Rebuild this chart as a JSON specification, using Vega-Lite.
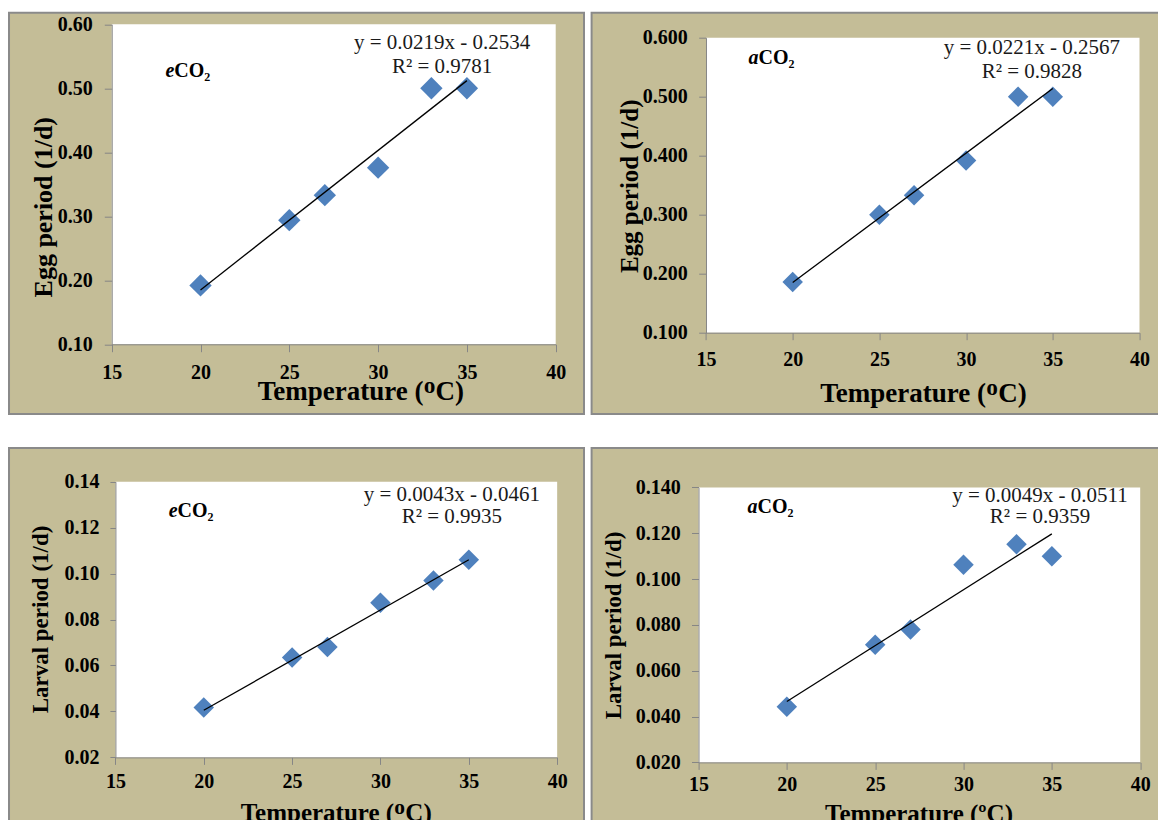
{
"$schema": "https://vega.github.io/schema/vega-lite/v6.json",
"background": "white",
"padding": {"left": 8, "top": 11.7, "right": 0, "bottom": 0},
"config": {
  "view": {"fill": "#C4BD97", "stroke": "#8a8a8a", "strokeWidth": 2},
  "axis": {"grid": false, "domainColor": "#868686", "tickColor": "#868686", "domainWidth": 1, "tickWidth": 1, "tickSize": 7, "labelFont": "Liberation Serif", "labelFontWeight": "bold", "labelFontSize": 20, "labelColor": "#000000", "titleFont": "Liberation Serif", "titleFontWeight": "bold", "titleColor": "#000000", "labelFlush": false, "labelOverlap": false},
  "text": {"font": "Liberation Serif"}
},
"datasets": {
  "tl": [{"T": 20, "v": 0.192}, {"T": 25, "v": 0.294}, {"T": 27, "v": 0.333}, {"T": 30, "v": 0.376}, {"T": 33, "v": 0.5}, {"T": 35, "v": 0.5}],
  "tr": [{"T": 20, "v": 0.186}, {"T": 25, "v": 0.3}, {"T": 27, "v": 0.333}, {"T": 30, "v": 0.392}, {"T": 33, "v": 0.5}, {"T": 35, "v": 0.5}],
  "bl": [{"T": 20, "v": 0.0417}, {"T": 25, "v": 0.0635}, {"T": 27, "v": 0.068}, {"T": 30, "v": 0.0873}, {"T": 33, "v": 0.097}, {"T": 35, "v": 0.106}],
  "br": [{"T": 20, "v": 0.0443}, {"T": 25, "v": 0.0713}, {"T": 27, "v": 0.078}, {"T": 30, "v": 0.1062}, {"T": 33, "v": 0.1152}, {"T": 35, "v": 0.11}],
  "tlfit": [{"T": 20, "v": 0.185}, {"T": 35, "v": 0.512}],
  "trfit": [{"T": 20, "v": 0.185}, {"T": 35, "v": 0.514}],
  "blfit": [{"T": 20, "v": 0.0405}, {"T": 35, "v": 0.106}],
  "brfit": [{"T": 20, "v": 0.0466}, {"T": 35, "v": 0.1197}],
  "one": [{}]
},
"spacing": 31.3,
"vconcat": [
 {"spacing": 5.6, "hconcat": [
  {"width": 575, "height": 401.3, "layer": [
    {"data": {"name": "one"}, "mark": {"type": "rect", "fill": "white"},
     "encoding": {"x": {"datum": 15, "type": "quantitative", "scale": {"domain": [9.2173, 41.593], "nice": false, "zero": false}}, "x2": {"datum": 40},
                  "y": {"datum": 0.6, "type": "quantitative", "scale": {"domain": [-0.00891, 0.618125], "nice": false, "zero": false}}, "y2": {"datum": 0.1}}},
    {"data": {"name": "tl"}, "mark": {"type": "point", "shape": "diamond", "filled": true, "size": 500, "color": "#4F81BD", "opacity": 1},
     "encoding": {"x": {"field": "T", "type": "quantitative", "scale": {"domain": [9.2173, 41.593], "nice": false, "zero": false},
                        "axis": {"values": [15, 20, 25, 30, 35, 40], "title": "Temperature (ᴼC)", "titleFontSize": 27, "labelPadding": 10.5, "tickSize": 7.4, "offset": -69.7, "domainDash": [0, 102.7, 444, 2000], "titleX": 351.4, "titleY": 55.7, "titleBaseline": "alphabetic", "titleAlign": "center", "zindex": 1}},
                  "y": {"field": "v", "type": "quantitative", "scale": {"domain": [-0.00891, 0.618125], "nice": false, "zero": false},
                        "axis": {"values": [0.1, 0.2, 0.3, 0.4, 0.5, 0.6], "format": ".2f", "title": "Egg period  (1/d)", "titleFontSize": 26, "labelPadding": 12, "tickSize": 7.4, "offset": -102.7, "domainDash": [0, 69.7, 320, 2000], "titleX": -59.9, "titleY": 194.0, "titleBaseline": "alphabetic", "titleAlign": "center", "titleAngle": -90, "zindex": 1}}}},
    {"data": {"name": "tlfit"}, "mark": {"type": "line", "color": "#000000", "strokeWidth": 1.3},
     "encoding": {"x": {"field": "T", "type": "quantitative"}, "y": {"field": "v", "type": "quantitative"}}},
    {"data": {"name": "one"}, "mark": {"type": "text", "text": "e", "fontStyle": "italic", "fontWeight": "bold", "fontSize": 20, "align": "right", "baseline": "middle", "color": "#000000"},
     "encoding": {"x": {"datum": 18.525, "type": "quantitative"}, "y": {"datum": 0.527, "type": "quantitative"}}},
    {"data": {"name": "one"}, "mark": {"type": "text", "text": "CO₂", "fontWeight": "bold", "fontSize": 20, "align": "left", "baseline": "middle", "color": "#000000"},
     "encoding": {"x": {"datum": 18.525, "type": "quantitative"}, "y": {"datum": 0.527, "type": "quantitative"}}},
    {"data": {"name": "one"}, "mark": {"type": "text", "text": "y = 0.0219x - 0.2534", "fontSize": 21, "align": "center", "baseline": "middle", "color": "#1a1a1a"},
     "encoding": {"x": {"datum": 33.6, "type": "quantitative"}, "y": {"datum": 0.5703, "type": "quantitative"}}},
    {"data": {"name": "one"}, "mark": {"type": "text", "text": "R² = 0.9781", "fontSize": 21, "align": "center", "baseline": "middle", "color": "#1a1a1a"},
     "encoding": {"x": {"datum": 33.6, "type": "quantitative"}, "y": {"datum": 0.5337, "type": "quantitative"}}}
  ]},
  {"width": 568, "height": 401.3, "layer": [
    {"data": {"name": "one"}, "mark": {"type": "rect", "fill": "white"},
     "encoding": {"x": {"datum": 15, "type": "quantitative", "scale": {"domain": [8.4025, 41.159], "nice": false, "zero": false}}, "x2": {"datum": 40},
                  "y": {"datum": 0.6, "type": "quantitative", "scale": {"domain": [-0.0378, 0.642373], "nice": false, "zero": false}}, "y2": {"datum": 0.1}}},
    {"data": {"name": "tr"}, "mark": {"type": "point", "shape": "diamond", "filled": true, "size": 420, "color": "#4F81BD", "opacity": 1},
     "encoding": {"x": {"field": "T", "type": "quantitative", "scale": {"domain": [8.4025, 41.159], "nice": false, "zero": false},
                        "axis": {"values": [15, 20, 25, 30, 35, 40], "title": "Temperature (ᴼC)", "titleFontSize": 27, "labelPadding": 9.5, "tickSize": 7, "offset": -81.3, "domainDash": [0, 114.4, 433.5, 2000], "titleX": 331.4, "titleY": 69, "titleBaseline": "alphabetic", "titleAlign": "center", "zindex": 1}},
                  "y": {"field": "v", "type": "quantitative", "scale": {"domain": [-0.0378, 0.642373], "nice": false, "zero": false},
                        "axis": {"values": [0.1, 0.2, 0.3, 0.4, 0.5, 0.6], "format": ".3f", "title": "Egg period  (1/d)", "titleFontSize": 25, "labelPadding": 11.4, "tickSize": 7.3, "offset": -114.4, "domainDash": [0, 81.3, 295, 2000], "titleX": -68, "titleY": 173.1, "titleBaseline": "alphabetic", "titleAlign": "center", "titleAngle": -90, "zindex": 1}}}},
    {"data": {"name": "trfit"}, "mark": {"type": "line", "color": "#000000", "strokeWidth": 1.3},
     "encoding": {"x": {"field": "T", "type": "quantitative"}, "y": {"field": "v", "type": "quantitative"}}},
    {"data": {"name": "one"}, "mark": {"type": "text", "text": "a", "fontStyle": "italic", "fontWeight": "bold", "fontSize": 20, "align": "right", "baseline": "middle", "color": "#000000"},
     "encoding": {"x": {"datum": 18.03, "type": "quantitative"}, "y": {"datum": 0.5651, "type": "quantitative"}}},
    {"data": {"name": "one"}, "mark": {"type": "text", "text": "CO₂", "fontWeight": "bold", "fontSize": 20, "align": "left", "baseline": "middle", "color": "#000000"},
     "encoding": {"x": {"datum": 18.03, "type": "quantitative"}, "y": {"datum": 0.5651, "type": "quantitative"}}},
    {"data": {"name": "one"}, "mark": {"type": "text", "text": "y = 0.0221x - 0.2567", "fontSize": 21, "align": "center", "baseline": "middle", "color": "#1a1a1a"},
     "encoding": {"x": {"datum": 33.79, "type": "quantitative"}, "y": {"datum": 0.582, "type": "quantitative"}}},
    {"data": {"name": "one"}, "mark": {"type": "text", "text": "R² = 0.9828", "fontSize": 21, "align": "center", "baseline": "middle", "color": "#1a1a1a"},
     "encoding": {"x": {"datum": 33.79, "type": "quantitative"}, "y": {"datum": 0.5424, "type": "quantitative"}}}
  ]}
 ]},
 {"spacing": 5.6, "hconcat": [
  {"width": 575, "height": 387.7, "layer": [
    {"data": {"name": "one"}, "mark": {"type": "rect", "fill": "white"},
     "encoding": {"x": {"datum": 15, "type": "quantitative", "scale": {"domain": [8.9785, 41.519], "nice": false, "zero": false}}, "x2": {"datum": 40},
                  "y": {"datum": 0.14, "type": "quantitative", "scale": {"domain": [-0.014081, 0.154668], "nice": false, "zero": false}}, "y2": {"datum": 0.02}}},
    {"data": {"name": "bl"}, "mark": {"type": "point", "shape": "diamond", "filled": true, "size": 420, "color": "#4F81BD", "opacity": 1},
     "encoding": {"x": {"field": "T", "type": "quantitative", "scale": {"domain": [8.9785, 41.519], "nice": false, "zero": false},
                        "axis": {"values": [15, 20, 25, 30, 35, 40], "title": "Temperature (ᴼC)", "titleFontSize": 25, "labelPadding": 7, "tickSize": 7, "offset": -78.3, "domainDash": [0, 106.4, 441.8, 2000], "titleX": 326.7, "titleY": 63.1, "titleBaseline": "alphabetic", "titleAlign": "center", "zindex": 1}},
                  "y": {"field": "v", "type": "quantitative", "scale": {"domain": [-0.014081, 0.154668], "nice": false, "zero": false},
                        "axis": {"values": [0.02, 0.04, 0.06, 0.08, 0.1, 0.12, 0.14], "format": ".2f", "title": "Larval period  (1/d)", "titleFontSize": 23, "labelPadding": 10.8, "tickSize": 5.5, "offset": -106.4, "domainDash": [0, 78.3, 275.7, 2000], "titleX": -68.4, "titleY": 171, "titleBaseline": "alphabetic", "titleAlign": "center", "titleAngle": -90, "zindex": 1}}}},
    {"data": {"name": "blfit"}, "mark": {"type": "line", "color": "#000000", "strokeWidth": 1.3},
     "encoding": {"x": {"field": "T", "type": "quantitative"}, "y": {"field": "v", "type": "quantitative"}}},
    {"data": {"name": "one"}, "mark": {"type": "text", "text": "e", "fontStyle": "italic", "fontWeight": "bold", "fontSize": 20, "align": "right", "baseline": "middle", "color": "#000000"},
     "encoding": {"x": {"datum": 18.52, "type": "quantitative"}, "y": {"datum": 0.12707, "type": "quantitative"}}},
    {"data": {"name": "one"}, "mark": {"type": "text", "text": "CO₂", "fontWeight": "bold", "fontSize": 20, "align": "left", "baseline": "middle", "color": "#000000"},
     "encoding": {"x": {"datum": 18.52, "type": "quantitative"}, "y": {"datum": 0.12707, "type": "quantitative"}}},
    {"data": {"name": "one"}, "mark": {"type": "text", "text": "y = 0.0043x - 0.0461", "fontSize": 21, "align": "center", "baseline": "middle", "color": "#1a1a1a"},
     "encoding": {"x": {"datum": 34.04, "type": "quantitative"}, "y": {"datum": 0.13434, "type": "quantitative"}}},
    {"data": {"name": "one"}, "mark": {"type": "text", "text": "R² = 0.9935", "fontSize": 21, "align": "center", "baseline": "middle", "color": "#1a1a1a"},
     "encoding": {"x": {"datum": 34.04, "type": "quantitative"}, "y": {"datum": 0.12477, "type": "quantitative"}}}
  ]},
  {"width": 568, "height": 387.7, "layer": [
    {"data": {"name": "one"}, "mark": {"type": "rect", "fill": "white"},
     "encoding": {"x": {"datum": 15, "type": "quantitative", "scale": {"domain": [8.9495, 41.098], "nice": false, "zero": false}}, "x2": {"datum": 40},
                  "y": {"datum": 0.14, "type": "quantitative", "scale": {"domain": [-0.011985, 0.157193], "nice": false, "zero": false}}, "y2": {"datum": 0.02}}},
    {"data": {"name": "br"}, "mark": {"type": "point", "shape": "diamond", "filled": true, "size": 420, "color": "#4F81BD", "opacity": 1},
     "encoding": {"x": {"field": "T", "type": "quantitative", "scale": {"domain": [8.9495, 41.098], "nice": false, "zero": false},
                        "axis": {"values": [15, 20, 25, 30, 35, 40], "title": "Temperature (ºC)", "titleFontSize": 25, "labelPadding": 5.5, "tickSize": 7, "offset": -73.3, "domainDash": [0, 106.9, 441.7, 2000], "titleX": 326.9, "titleY": 58.8, "titleBaseline": "alphabetic", "titleAlign": "center", "zindex": 1}},
                  "y": {"field": "v", "type": "quantitative", "scale": {"domain": [-0.011985, 0.157193], "nice": false, "zero": false},
                        "axis": {"values": [0.02, 0.04, 0.06, 0.08, 0.1, 0.12, 0.14], "format": ".3f", "title": "Larval period  (1/d)", "titleFontSize": 23, "labelPadding": 11.3, "tickSize": 7, "offset": -106.9, "domainDash": [0, 73.3, 275, 2000], "titleX": -77.7, "titleY": 177, "titleBaseline": "alphabetic", "titleAlign": "center", "titleAngle": -90, "zindex": 1}}}},
    {"data": {"name": "brfit"}, "mark": {"type": "line", "color": "#000000", "strokeWidth": 1.3},
     "encoding": {"x": {"field": "T", "type": "quantitative"}, "y": {"field": "v", "type": "quantitative"}}},
    {"data": {"name": "one"}, "mark": {"type": "text", "text": "a", "fontStyle": "italic", "fontWeight": "bold", "fontSize": 20, "align": "right", "baseline": "middle", "color": "#000000"},
     "encoding": {"x": {"datum": 18.34, "type": "quantitative"}, "y": {"datum": 0.13158, "type": "quantitative"}}},
    {"data": {"name": "one"}, "mark": {"type": "text", "text": "CO₂", "fontWeight": "bold", "fontSize": 20, "align": "left", "baseline": "middle", "color": "#000000"},
     "encoding": {"x": {"datum": 18.34, "type": "quantitative"}, "y": {"datum": 0.13158, "type": "quantitative"}}},
    {"data": {"name": "one"}, "mark": {"type": "text", "text": "y = 0.0049x - 0.0511", "fontSize": 21, "align": "center", "baseline": "middle", "color": "#1a1a1a"},
     "encoding": {"x": {"datum": 34.33, "type": "quantitative"}, "y": {"datum": 0.13638, "type": "quantitative"}}},
    {"data": {"name": "one"}, "mark": {"type": "text", "text": "R² = 0.9359", "fontSize": 21, "align": "center", "baseline": "middle", "color": "#1a1a1a"},
     "encoding": {"x": {"datum": 34.33, "type": "quantitative"}, "y": {"datum": 0.12691, "type": "quantitative"}}}
  ]}
 ]}
]
}
